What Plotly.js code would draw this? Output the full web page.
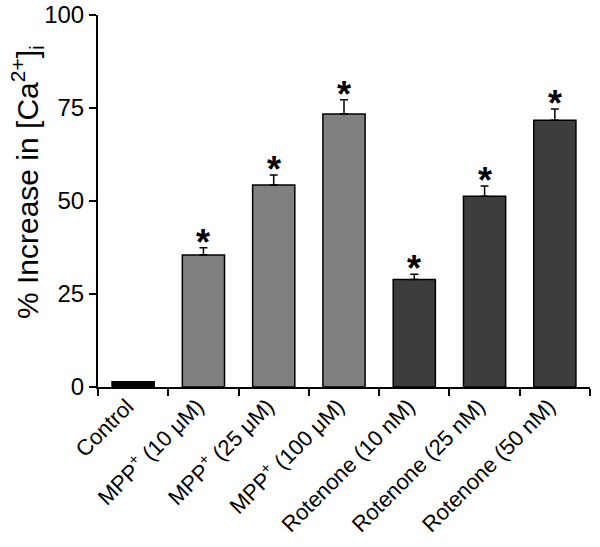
<!DOCTYPE html>
<html>
<head>
<meta charset="utf-8">
<script src="https://cdn.plot.ly/plotly-3.0.1.min.js"></script>
<style>html,body{margin:0;padding:0;background:#fff;}#chart{width:600px;height:547px;}</style>
</head>
<body>
<div id="chart"></div>
<script>
const categories = ["Control", "MPP<sup>+</sup> (10 μM)", "MPP<sup>+</sup> (25 μM)", "MPP<sup>+</sup> (100 μM)",
  "Rotenone (10 nM)", "Rotenone (25 nM)", "Rotenone (50 nM)"];
const values = [1.4, 35.5, 54.3, 73.4, 28.9, 51.3, 71.7];
const errors = [0, 1.9, 2.7, 3.8, 1.4, 2.7, 3.0];
const significant = [false, true, true, true, true, true, true];
const barColors = ["#000000", "#808080", "#808080", "#808080", "#3d3d3d", "#3d3d3d", "#3d3d3d"];
const yTicks = [0, 25, 50, 75, 100];
const yTitle = "% Increase in [Ca<sup>2+</sup>]<sub>i</sub>";

const font = "Liberation Sans, Arial, sans-serif";

const trace = {
  type: "bar",
  x: categories,
  y: values,
  width: 0.6,
  marker: {color: barColors, line: {color: "#000", width: 1.5}},
  error_y: {type: "data", array: errors, symmetric: false, arrayminus: errors.map(() => 0),
            visible: true, color: "#000", thickness: 1.5, width: 4},
  hoverinfo: "none"
};

const annotations = [];
categories.forEach((c, i) => {
  if (significant[i]) {
    annotations.push({
      x: c, y: values[i] + errors[i], xref: "x", yref: "y",
      text: "<b>*</b>", showarrow: false, yanchor: "bottom", yshift: -17,
      font: {family: font, size: 36, color: "#000"}
    });
  }
});
annotations.push({
  xref: "paper", yref: "paper", x: -0.143, y: 0.55, xanchor: "center", yanchor: "middle",
  text: yTitle, textangle: -90, showarrow: false,
  font: {family: font, size: 30, color: "#000"}
});

const layout = {
  width: 600, height: 547,
  margin: {l: 98, r: 10, t: 15, b: 160},
  paper_bgcolor: "#fff", plot_bgcolor: "#fff",
  showlegend: false,
  font: {family: font, color: "#000"},
  xaxis: {
    type: "category",
    showline: true, linecolor: "#000", linewidth: 2,
    ticks: "outside", tickson: "boundaries", ticklen: 7, tickwidth: 2, tickcolor: "#000",
    tickangle: -45, tickfont: {family: font, size: 22, color: "#000"},
    ticklabelshift: -6, ticklabelstandoff: -4,
    showgrid: false, zeroline: false
  },
  yaxis: {
    range: [0, 100], tickvals: yTicks, ticktext: yTicks.map(String),
    showline: true, linecolor: "#000", linewidth: 2,
    ticks: "outside", ticklen: 7, tickwidth: 2, tickcolor: "#000",
    tickfont: {family: font, size: 24, color: "#000"},
    showgrid: false, zeroline: false
  },
  annotations: annotations
};

Plotly.newPlot("chart", [trace], layout, {displayModeBar: false, staticPlot: true});
</script>
</body>
</html>
